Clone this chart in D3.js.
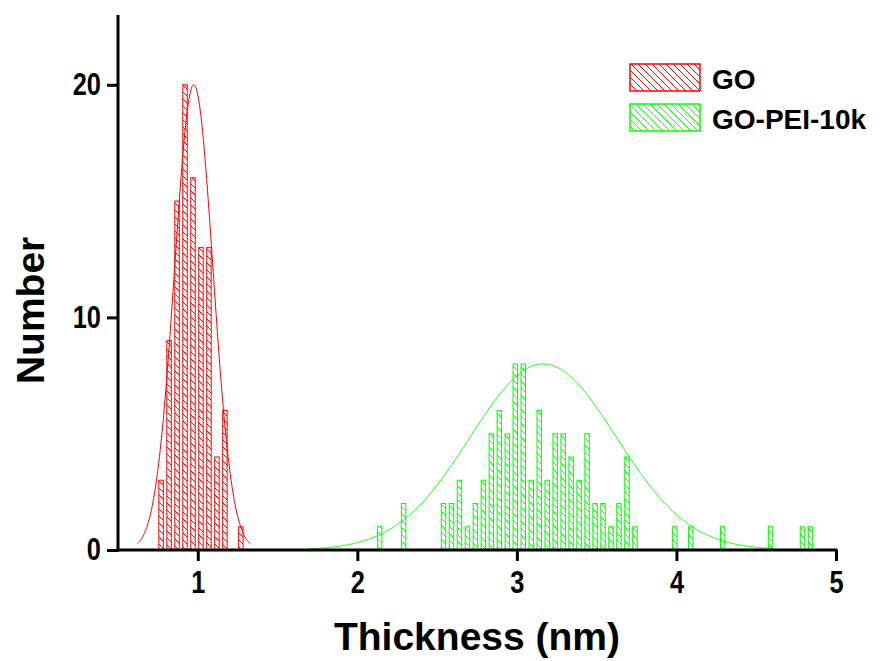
<!DOCTYPE html>
<html>
<head>
<meta charset="utf-8">
<script src="https://cdn.jsdelivr.net/npm/d3@7"></script>
<style>
  body { margin: 0; background: #fff; }
  text { font-family: "Liberation Sans", Arial, sans-serif; font-weight: bold; fill: #000; }
</style>
</head>
<body>
<div id="chart"></div>
<script>
// bin centres (nm) and counts
const goX = [0.77, 0.82, 0.87, 0.92, 0.97, 1.02, 1.07, 1.12, 1.17, 1.27];
const goN = [3, 9, 15, 20, 16, 13, 13, 4, 6, 1];

const peiX = [2.14, 2.29, 2.54, 2.59, 2.64, 2.69, 2.74, 2.79, 2.84, 2.89, 2.94,
  2.99, 3.04, 3.09, 3.14, 3.19, 3.24, 3.29, 3.34, 3.39, 3.44, 3.49, 3.54, 3.59,
  3.64, 3.69, 3.74, 3.99, 4.09, 4.29, 4.59, 4.79, 4.84];
const peiN = [1, 2, 2, 2, 3, 1, 2, 3, 5, 6, 5, 8, 8, 3, 6, 3, 5, 5, 4, 3, 5, 2,
  2, 1, 2, 4, 1, 1, 1, 1, 1, 1, 1];

// gaussian fit parameters: [centre, sigma, amplitude, from, to]
const goFit = [0.975, 0.12, 20, 0.62, 1.33];
const peiFit = [3.165, 0.458, 8, 1.7, 4.6];

const xTicks = [1, 2, 3, 4, 5];
const yTicks = [0, 10, 20];
const yMinor = [5, 15];

const series = [
  { name: "GO", xs: goX, ns: goN, fit: goFit, color: "#ff0000" },
  { name: "GO-PEI-10k", xs: peiX, ns: peiN, fit: peiFit, color: "#00ff00" }
];

const width = 888, height = 661;
const svg = d3.select("#chart").append("svg")
  .attr("width", width)
  .attr("height", height);

svg.append("rect").attr("width", width).attr("height", height).attr("fill", "#fff");

const x = d3.scaleLinear().domain([0.5, 5]).range([118, 836]);
const y = d3.scaleLinear().domain([0, 23]).range([550, 15]);

// hatch patterns, one per series
const defs = svg.append("defs");
series.forEach((s, i) => {
  const p = defs.append("pattern")
    .attr("id", "hatch" + i)
    .attr("patternUnits", "userSpaceOnUse")
    .attr("width", 7)
    .attr("height", 7);
  p.append("rect").attr("width", 7).attr("height", 7).attr("fill", "#fff");
  p.append("path")
    .attr("d", "M-1,-1 L8,8 M-1,6 L1,8 M6,-1 L8,1")
    .attr("stroke", s.color)
    .attr("stroke-width", 1);
});

const barW = 0.028;

series.forEach((s, i) => {
  const g = svg.append("g");
  g.selectAll("rect")
    .data(s.xs.map((v, k) => ({ x: v, n: s.ns[k] })))
    .enter()
    .append("rect")
    .attr("x", d => x(d.x - barW / 2))
    .attr("width", d => x(d.x + barW / 2) - x(d.x - barW / 2))
    .attr("y", d => y(d.n))
    .attr("height", d => y(0) - y(d.n))
    .attr("fill", "url(#hatch" + i + ")")
    .attr("stroke", s.color)
    .attr("stroke-width", 1);

  const [c, sd, a, from, to] = s.fit;
  const pts = d3.range(from, to + 0.001, 0.005).map(v => [v, a * Math.exp(-((v - c) ** 2) / (2 * sd * sd))]);
  g.append("path")
    .datum(pts)
    .attr("fill", "none")
    .attr("stroke", s.color)
    .attr("stroke-width", 1)
    .attr("d", d3.line().x(d => x(d[0])).y(d => y(d[1])));
});

// x axis
const xMinor = d3.range(0.5, 5.001, 1 / 6).filter(v => Math.abs(v - Math.round(v)) > 0.01);
const xAxisG = svg.append("g").attr("transform", "translate(0," + y(0) + ")");
xAxisG.call(d3.axisBottom(x).tickValues(xMinor).tickSize(6).tickFormat(""));
xAxisG.call(d3.axisBottom(x).tickValues(xTicks).tickSize(11).tickSizeOuter(0)
  .tickPadding(10).tickFormat(d3.format("d")));

// y axis
const yAxisG = svg.append("g").attr("transform", "translate(" + x(0.5) + ",0)");
yAxisG.call(d3.axisLeft(y).tickValues(yMinor).tickSize(6).tickFormat(""));
yAxisG.call(d3.axisLeft(y).tickValues(yTicks).tickSize(11).tickSizeOuter(0)
  .tickPadding(6).tickFormat(d3.format("d")));

svg.selectAll(".domain").attr("stroke", "#000").attr("stroke-width", 3);
svg.selectAll(".tick line").attr("stroke", "#000").attr("stroke-width", 3);
svg.selectAll(".tick text")
  .attr("font-size", 31)
  .attr("font-family", "'Liberation Sans', Arial, sans-serif")
  .attr("font-weight", "bold")
  .attr("fill", "#000");
// condensed look of the original tick numbers
xAxisG.selectAll(".tick text").attr("transform", "scale(0.82,1)");
yAxisG.selectAll(".tick text")
  .attr("x", -17 / 0.82)
  .attr("transform", "scale(0.82,1)");

svg.selectAll("path.domain").attr("d", null);
xAxisG.append("line").attr("x1", x(0.5) - 1.5).attr("x2", x(5) + 1.5)
  .attr("stroke", "#000").attr("stroke-width", 3);
yAxisG.append("line").attr("y1", y(0) + 1.5).attr("y2", y(23))
  .attr("stroke", "#000").attr("stroke-width", 3);

// axis titles
svg.append("text")
  .attr("x", (x(0.5) + x(5)) / 2)
  .attr("y", 650)
  .attr("text-anchor", "middle")
  .attr("font-size", 39)
  .text("Thickness (nm)");

svg.append("text")
  .attr("transform", "translate(44," + y(10.3) + ") rotate(-90)")
  .attr("text-anchor", "middle")
  .attr("font-size", 39)
  .text("Number");

// legend
const legend = svg.append("g");
series.forEach((s, i) => {
  const ly = 64 + i * 40;
  legend.append("rect")
    .attr("x", 630).attr("y", ly)
    .attr("width", 70).attr("height", 27)
    .attr("fill", "url(#hatch" + i + ")")
    .attr("stroke", s.color)
    .attr("stroke-width", 1.5);
  legend.append("text")
    .attr("x", 712).attr("y", ly + 25)
    .attr("font-size", 28)
    .text(s.name);
});
</script>
</body>
</html>
